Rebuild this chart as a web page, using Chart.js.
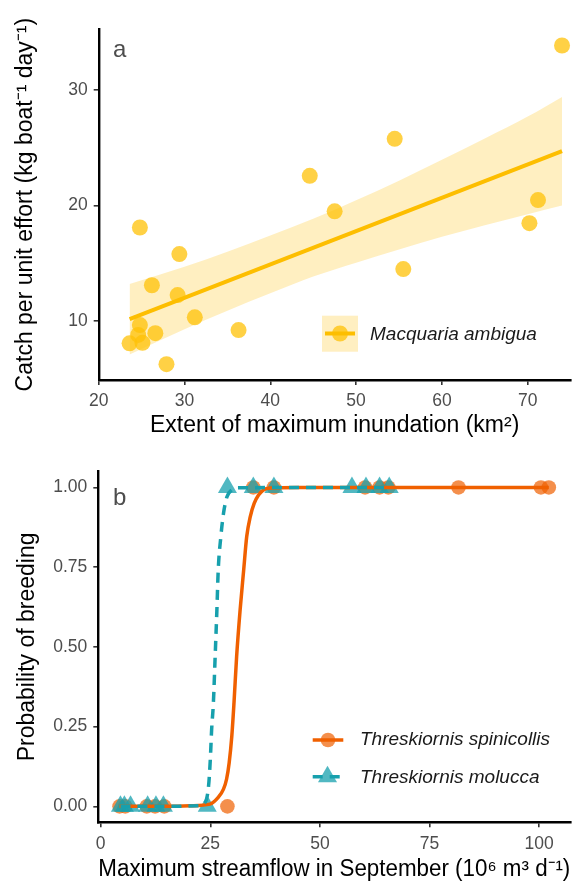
<!DOCTYPE html>
<html><head><meta charset="utf-8">
<script src="https://cdn.jsdelivr.net/npm/chart.js@4.4.1/dist/chart.umd.min.js"></script>
<style>
html,body{margin:0;padding:0;background:#fff;}
#wrap{position:relative;width:582px;height:885px;overflow:hidden;background:#fff;}
canvas{position:absolute;left:0;}
</style></head><body>
<div id="wrap">
<canvas id="chartA" width="582" height="450" style="top:0px"></canvas>
<canvas id="chartB" width="582" height="445" style="top:440px"></canvas>
</div>
<script>
// ---------- Panel a data ----------
const catchX = [23.6, 24.8, 24.8, 24.6, 25.1, 26.2, 26.6, 27.9, 29.4, 29.2, 31.2, 36.3, 44.6, 47.5, 54.5, 55.5, 70.2, 71.2, 74.0];
const catchY = [8.07, 18.1, 9.65, 8.8, 8.12, 13.1, 8.95, 6.27, 15.8, 12.25, 10.32, 9.22, 22.57, 19.5, 25.77, 14.5, 18.47, 20.47, 33.85];
const fitX = [23.6, 74.0];
const fitY = [10.17, 24.70];
const bandX = [23.6, 30, 35, 40, 45, 50, 55, 60, 65, 70, 74];
const bandUpper = [13.2, 14.7, 16.0, 17.4, 18.85, 20.45, 22.15, 23.95, 25.8, 27.7, 29.4];
const bandLower = [7.1, 9.3, 10.9, 12.4, 13.85, 15.05, 16.2, 17.3, 18.3, 19.25, 20.0];
const xTicksA = [20, 30, 40, 50, 60, 70];
const yTicksA = [10, 20, 30];
const speciesA = 'Macquaria ambigua';

// ---------- Panel b data ----------
const spinX = [4.3, 5.6, 10.5, 12.4, 14.5, 28.9, 34.8, 39.5, 60.3, 63.6, 65.6, 81.6, 100.4, 102.2];
const spinY = [0, 0, 0, 0, 0, 0, 1, 1, 1, 1, 1, 1, 1, 1];
const molX = [4.5, 5.4, 6.8, 10.7, 12.6, 14.3, 24.3, 28.9, 34.8, 39.5, 57.3, 60.5, 63.6, 65.8];
const molY = [0, 0, 0, 0, 0, 0, 0, 1, 1, 1, 1, 1, 1, 1];
const spinCurveX = [4.3, 15, 20.4, 24.9, 26.8, 28.0, 28.7, 29.3, 29.9, 30.4, 31.0, 31.8, 32.6, 33.3, 34.1, 35.0, 36.0, 37.1, 38.6, 45, 102.2];
const spinCurveY = [0, 0, 0.002, 0.007, 0.028, 0.054, 0.085, 0.137, 0.22, 0.325, 0.47, 0.617, 0.74, 0.846, 0.908, 0.95, 0.976, 0.992, 0.998, 1, 1];
const molCurveX = [4.5, 15, 22.2, 23.8, 24.6, 25.0, 25.3, 25.7, 26.1, 26.5, 26.8, 27.4, 28.0, 28.8, 29.9, 31.2, 65.8];
const molCurveY = [0, 0, 0.002, 0.012, 0.064, 0.148, 0.241, 0.325, 0.47, 0.617, 0.74, 0.846, 0.918, 0.971, 0.992, 0.999, 1];
const xTicksB = [0, 25, 50, 75, 100];
const yTicksB = [0, 0.25, 0.5, 0.75, 1];
const yTickLabelsB = ['0.00', '0.25', '0.50', '0.75', '1.00'];
const speciesB = ['Threskiornis spinicollis', 'Threskiornis molucca'];

// ---------- styling ----------
const FONT = "'Liberation Sans', Arial, Helvetica, sans-serif";
Chart.defaults.font.family = FONT;
Chart.defaults.animation = false;

const GOLD_PT = 'rgba(255,193,7,0.75)';
const GOLD_LINE = 'rgb(253,190,0)';
const GOLD_BAND = 'rgba(255,193,7,0.25)';
const OR_LINE = 'rgb(240,96,0)';
const OR_PT = 'rgba(240,96,0,0.7)';
const TE_LINE = 'rgb(23,160,173)';
const TE_PT = 'rgba(23,160,173,0.75)';

function pts(xs, ys) { return xs.map((x, i) => ({ x: x, y: ys[i] })); }

function axis(min, max, tickVals, tickLabels, size, isY, title, titlePad, tickPad) {
  return {
    type: 'linear', min: min, max: max,
    afterBuildTicks: s => { s.ticks = tickVals.map(v => ({ value: v })); },
    afterFit: s => { if (isY) s.width = size; else s.height = size; },
    grid: { display: true, drawOnChartArea: false, drawTicks: true, tickLength: 5, color: '#333333', lineWidth: 1.6 },
    border: { display: true, color: '#000000', width: 2.4 },
    ticks: {
      color: '#4D4D4D', font: { size: 17.5, family: FONT }, padding: tickPad,
      autoSkip: false, maxRotation: 0, minRotation: 0,
      callback: (v, i) => tickLabels ? tickLabels[i] : String(v)
    },
    title: { display: true, text: title, color: '#000000', font: { size: 23, family: FONT }, padding: titlePad }
  };
}

// ---------- Panel a ----------
const panelA = {
  id: 'panelA',
  afterDraw(chart) {
    const ctx = chart.ctx;
    ctx.save();
    ctx.fillStyle = '#4D4D4D';
    ctx.font = '24px ' + FONT;
    ctx.textBaseline = 'alphabetic';
    ctx.textAlign = 'left';
    ctx.fillText('a', 113, 57.3);
    // legend key
    ctx.fillStyle = GOLD_BAND;
    ctx.fillRect(322, 315.7, 36, 36);
    ctx.fillStyle = GOLD_PT;
    ctx.beginPath(); ctx.arc(340, 333.5, 8, 0, Math.PI * 2); ctx.fill();
    ctx.strokeStyle = GOLD_LINE; ctx.lineWidth = 4;
    ctx.beginPath(); ctx.moveTo(325, 333.5); ctx.lineTo(355, 333.5); ctx.stroke();
    ctx.fillStyle = '#1A1A1A';
    ctx.font = 'italic 19px ' + FONT;
    ctx.fillText(speciesA, 370, 339.5);
    ctx.restore();
  }
};

new Chart(document.getElementById('chartA'), {
  type: 'scatter',
  data: {
    datasets: [
      { label: 'upper', data: pts(bandX, bandUpper), showLine: true, borderColor: 'transparent', borderWidth: 0,
        pointRadius: 0, fill: '+1', backgroundColor: GOLD_BAND, cubicInterpolationMode: 'monotone', order: 3 },
      { label: 'lower', data: pts(bandX, bandLower), showLine: true, borderColor: 'transparent', borderWidth: 0,
        pointRadius: 0, fill: false, cubicInterpolationMode: 'monotone', order: 4 },
      { label: speciesA, data: pts(catchX, catchY), pointRadius: 8, pointBackgroundColor: GOLD_PT,
        backgroundColor: GOLD_PT, pointBorderWidth: 0, borderWidth: 0, clip: false, order: 2 },
      { label: 'fit', data: pts(fitX, fitY), showLine: true, borderColor: GOLD_LINE, borderWidth: 4,
        pointRadius: 0, fill: false, order: 1 }
    ]
  },
  options: {
    responsive: false, maintainAspectRatio: false, events: [],
    layout: { padding: { left: 0, right: 11.4, top: 29.3, bottom: 0 } },
    plugins: { legend: { display: false }, tooltip: { enabled: false } },
    scales: {
      x: axis(20, 75, xTicksA, null, 70, false, 'Extent of maximum inundation (km²)', { top: 0, bottom: 10.9 }, 6),
      y: axis(4.9, 35.25, yTicksA, null, 98.7, true, 'Catch per unit effort (kg boat⁻¹ day⁻¹)', { top: 11.5, bottom: 0 }, 6)
    }
  },
  plugins: [panelA]
});

// ---------- Panel b ----------
const panelB = {
  id: 'panelB',
  afterDraw(chart) {
    const ctx = chart.ctx;
    ctx.save();
    ctx.fillStyle = '#4D4D4D';
    ctx.font = '24px ' + FONT;
    ctx.textBaseline = 'alphabetic';
    ctx.textAlign = 'left';
    ctx.fillText('b', 113, 65);
    // legend: spinicollis
    ctx.fillStyle = OR_PT;
    ctx.beginPath(); ctx.arc(328, 300, 7.3, 0, Math.PI * 2); ctx.fill();
    ctx.strokeStyle = OR_LINE; ctx.lineWidth = 3.5;
    ctx.beginPath(); ctx.moveTo(312.7, 300); ctx.lineTo(343.3, 300); ctx.stroke();
    // legend: molucca
    const cx = 327.5, cy = 336.8, r = 11;
    ctx.fillStyle = TE_PT;
    ctx.beginPath();
    ctx.moveTo(cx, cy - r);
    ctx.lineTo(cx + r * Math.sin(2 * Math.PI / 3), cy - r * Math.cos(2 * Math.PI / 3));
    ctx.lineTo(cx + r * Math.sin(4 * Math.PI / 3), cy - r * Math.cos(4 * Math.PI / 3));
    ctx.closePath(); ctx.fill();
    ctx.strokeStyle = TE_LINE; ctx.lineWidth = 3.5; ctx.setLineDash([10, 7]);
    ctx.beginPath(); ctx.moveTo(312.7, 336.8); ctx.lineTo(343.3, 336.8); ctx.stroke();
    ctx.setLineDash([]);
    ctx.fillStyle = '#1A1A1A';
    ctx.font = 'italic 19px ' + FONT;
    ctx.fillText(speciesB[0], 360, 305);
    ctx.fillText(speciesB[1], 360, 342.7);
    ctx.restore();
  }
};

new Chart(document.getElementById('chartB'), {
  type: 'scatter',
  data: {
    datasets: [
      { label: speciesB[1] + ' fit', data: pts(molCurveX, molCurveY), showLine: true, borderColor: TE_LINE, borderWidth: 3.5,
        borderDash: [10, 7], pointRadius: 0, fill: false, cubicInterpolationMode: 'monotone', clip: false, order: 0 },
      { label: speciesB[0] + ' fit', data: pts(spinCurveX, spinCurveY), showLine: true, borderColor: OR_LINE, borderWidth: 3.5,
        pointRadius: 0, fill: false, cubicInterpolationMode: 'monotone', clip: false, order: 1 },
      { label: speciesB[1], data: pts(molX, molY), pointStyle: 'triangle', pointRadius: 11,
        pointBackgroundColor: TE_PT, backgroundColor: TE_PT, pointBorderWidth: 0, borderWidth: 0, clip: false, order: 2 },
      { label: speciesB[0], data: pts(spinX, spinY), pointStyle: 'circle', pointRadius: 7.3,
        pointBackgroundColor: OR_PT, backgroundColor: OR_PT, pointBorderWidth: 0, borderWidth: 0, clip: false, order: 3 }
    ]
  },
  options: {
    responsive: false, maintainAspectRatio: false, events: [],
    layout: { padding: { left: 0, right: 11.7, top: 31.5, bottom: 0 } },
    plugins: { legend: { display: false }, tooltip: { enabled: false } },
    scales: {
      x: axis(-0.55, 107.1, xTicksB, null, 62.7, false, 'Maximum streamflow in September (10⁶ m³ d⁻¹)', { top: 0, bottom: 1.5 }, 6),
      y: axis(-0.05, 1.05, yTicksB, yTickLabelsB, 98.3, true, 'Probability of breeding', { top: 14.2, bottom: 0 }, 6)
    }
  },
  plugins: [panelB]
});
</script>
</body></html>
